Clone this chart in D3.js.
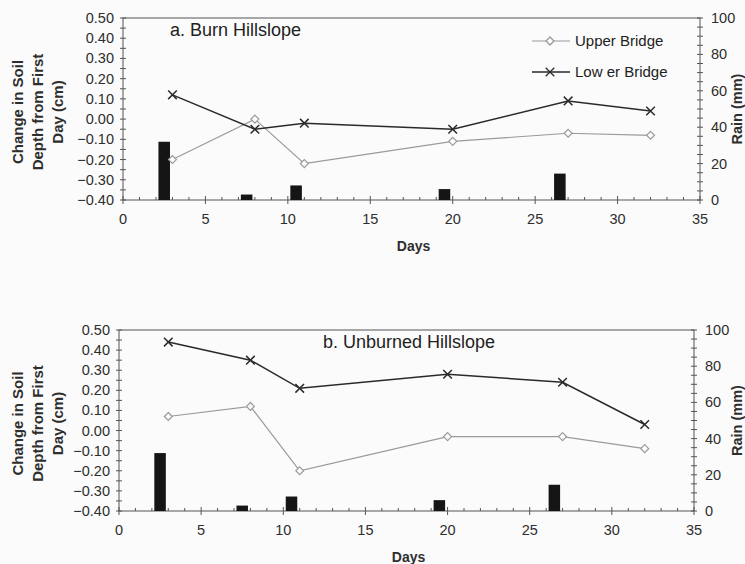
<!DOCTYPE html>
<html>
<head>
<meta charset="utf-8">
<script src="https://cdn.jsdelivr.net/npm/d3@7"></script>
<style>
  body { margin: 0; background: #fbfbfb; }
  svg { display: block; font-family: "Liberation Sans", Arial, sans-serif; }
</style>
</head>
<body>
<svg id="chart" width="745" height="564"></svg>
<script>
// sampling days for the bridges
const days = [3, 8, 11, 20, 27, 32];

// burn hillslope
const burnUpper = [-0.20, 0.00, -0.22, -0.11, -0.07, -0.08];
const burnLower = [0.12, -0.05, -0.02, -0.05, 0.09, 0.04];

// unburned hillslope
const unburnUpper = [0.07, 0.12, -0.20, -0.03, -0.03, -0.09];
const unburnLower = [0.44, 0.35, 0.21, 0.28, 0.24, 0.03];

// rain events
const rainDays = [2.5, 7.5, 10.5, 19.5, 26.5];
const rainMm = [32, 3, 8, 6, 14.5];

const xTicks = [0, 5, 10, 15, 20, 25, 30, 35];
const leftTicks = [0.5, 0.4, 0.3, 0.2, 0.1, 0, -0.1, -0.2, -0.3, -0.4];
const rightTicks = [0, 20, 40, 60, 80, 100];

const svg = d3.select('#chart');
const axisColor = '#555';
const textColor = '#2e2e2e';
const upperColor = '#9a9a9a';
const lowerColor = '#2a2a2a';

function drawPanel(p) {
  const x = d3.scaleLinear().domain([0, 35]).range([p.left, p.right]);
  const y = d3.scaleLinear().domain([-0.4, 0.5]).range([p.bottom, p.top]);
  const yr = d3.scaleLinear().domain([0, 100]).range([p.bottom, p.top]);
  const g = svg.append('g');

  // frame
  g.append('rect')
    .attr('x', p.left).attr('y', p.top)
    .attr('width', p.right - p.left).attr('height', p.bottom - p.top)
    .attr('fill', 'none').attr('stroke', axisColor).attr('stroke-width', 1);

  // rain bars
  const bw = x(0.7) - x(0);
  g.selectAll('rect.rain')
    .data(rainDays.map((d, i) => ({ d: d, v: rainMm[i] })))
    .enter().append('rect')
    .attr('class', 'rain')
    .attr('x', d => x(d.d) - bw / 2)
    .attr('y', d => yr(d.v))
    .attr('width', bw)
    .attr('height', d => yr(0) - yr(d.v))
    .attr('fill', '#151515');

  // x axis ticks
  const minorX = d3.range(0, 36, 1);
  g.selectAll('line.mx').data(minorX).enter().append('line')
    .attr('x1', d => x(d)).attr('x2', d => x(d))
    .attr('y1', d => p.bottom - (d % 5 === 0 ? 4 : 3))
    .attr('y2', d => p.bottom + (d % 5 === 0 ? 4 : 0))
    .attr('stroke', axisColor);
  g.selectAll('text.xt').data(xTicks).enter().append('text')
    .attr('x', d => x(d)).attr('y', p.bottom + 24)
    .attr('text-anchor', 'middle').attr('font-size', 14.5).attr('fill', textColor)
    .text(d => d);

  // left axis ticks
  const minorY = d3.range(-0.4, 0.501, 0.05);
  g.selectAll('line.my').data(minorY).enter().append('line')
    .attr('x1', p.left - 3).attr('x2', p.left + 3)
    .attr('y1', d => y(d)).attr('y2', d => y(d))
    .attr('stroke', axisColor);
  g.selectAll('text.yt').data(leftTicks).enter().append('text')
    .attr('x', p.left - 9).attr('y', d => y(d) + 5)
    .attr('text-anchor', 'end').attr('font-size', 14.5).attr('fill', textColor)
    .text(d => d3.format('.2f')(d));

  // right axis ticks
  const minorR = d3.range(0, 101, 5);
  g.selectAll('line.mr').data(minorR).enter().append('line')
    .attr('x1', p.right - 3).attr('x2', p.right + 3)
    .attr('y1', d => yr(d)).attr('y2', d => yr(d))
    .attr('stroke', axisColor);
  g.selectAll('text.rt').data(rightTicks).enter().append('text')
    .attr('x', p.right + 11).attr('y', d => yr(d) + 5)
    .attr('font-size', 14.5).attr('fill', textColor)
    .text(d => d);

  // series
  const line = d3.line().x(d => x(d[0])).y(d => y(d[1]));
  const up = days.map((d, i) => [d, p.upper[i]]);
  const lo = days.map((d, i) => [d, p.lower[i]]);

  g.append('path').datum(up).attr('d', line)
    .attr('fill', 'none').attr('stroke', upperColor).attr('stroke-width', 1.2);
  g.selectAll('path.dia').data(up).enter().append('path')
    .attr('d', d3.symbol(d3.symbolDiamond2, 40)())
    .attr('transform', d => `translate(${x(d[0])},${y(d[1])})`)
    .attr('fill', '#fbfbfb').attr('stroke', upperColor).attr('stroke-width', 1.2);

  g.append('path').datum(lo).attr('d', line)
    .attr('fill', 'none').attr('stroke', lowerColor).attr('stroke-width', 1.5);
  g.selectAll('path.cross').data(lo).enter().append('path')
    .attr('d', d3.symbol(d3.symbolTimes, 50)())
    .attr('transform', d => `translate(${x(d[0])},${y(d[1])})`)
    .attr('fill', 'none').attr('stroke', lowerColor).attr('stroke-width', 1.5);

  // titles
  g.append('text').attr('x', p.titleX).attr('y', p.top + 18)
    .attr('font-size', 18).attr('fill', '#222').text(p.title);

  g.append('text').attr('x', (p.left + p.right) / 2 + 2).attr('y', p.bottom + 51)
    .attr('text-anchor', 'middle').attr('font-size', 14).attr('font-weight', 'bold')
    .attr('fill', textColor).text('Days');

  const ylab = g.append('text')
    .attr('transform', `translate(0,${(p.top + p.bottom) / 2 + 3}) rotate(-90)`)
    .attr('text-anchor', 'middle').attr('font-size', 15).attr('font-weight', 'bold')
    .attr('fill', textColor);
  ['Change in Soil', 'Depth from First', 'Day (cm)'].forEach((t, i) => {
    ylab.append('tspan').attr('x', 0).attr('y', 23 + i * 20).text(t);
  });

  g.append('text')
    .attr('transform', `translate(742,${(p.top + p.bottom) / 2}) rotate(-90)`)
    .attr('text-anchor', 'middle').attr('font-size', 14.5).attr('font-weight', 'bold')
    .attr('fill', textColor).text('Rain (mm)');

  if (p.legend) {
    const lg = [
      { name: 'Upper Bridge', color: upperColor, sym: d3.symbolDiamond2, y: 41 },
      { name: 'Low er Bridge', color: lowerColor, sym: d3.symbolTimes, y: 72 }
    ];
    lg.forEach(l => {
      svg.append('line').attr('x1', 532).attr('x2', 570).attr('y1', l.y).attr('y2', l.y)
        .attr('stroke', l.color).attr('stroke-width', l.sym === d3.symbolTimes ? 1.5 : 1.2);
      svg.append('path').attr('d', d3.symbol(l.sym, l.sym === d3.symbolTimes ? 50 : 40)())
        .attr('transform', `translate(550,${l.y})`)
        .attr('fill', l.sym === d3.symbolTimes ? 'none' : '#fbfbfb')
        .attr('stroke', l.color).attr('stroke-width', 1.3);
      svg.append('text').attr('x', 575).attr('y', l.y + 5)
        .attr('font-size', 15).attr('fill', '#222').text(l.name);
    });
  }
}

drawPanel({ left: 123, right: 700, top: 18, bottom: 200,
  upper: burnUpper, lower: burnLower, title: 'a. Burn Hillslope', titleX: 170, legend: true });
drawPanel({ left: 119, right: 694, top: 330, bottom: 511,
  upper: unburnUpper, lower: unburnLower, title: 'b. Unburned Hillslope', titleX: 323, legend: false });
</script>
</body>
</html>
